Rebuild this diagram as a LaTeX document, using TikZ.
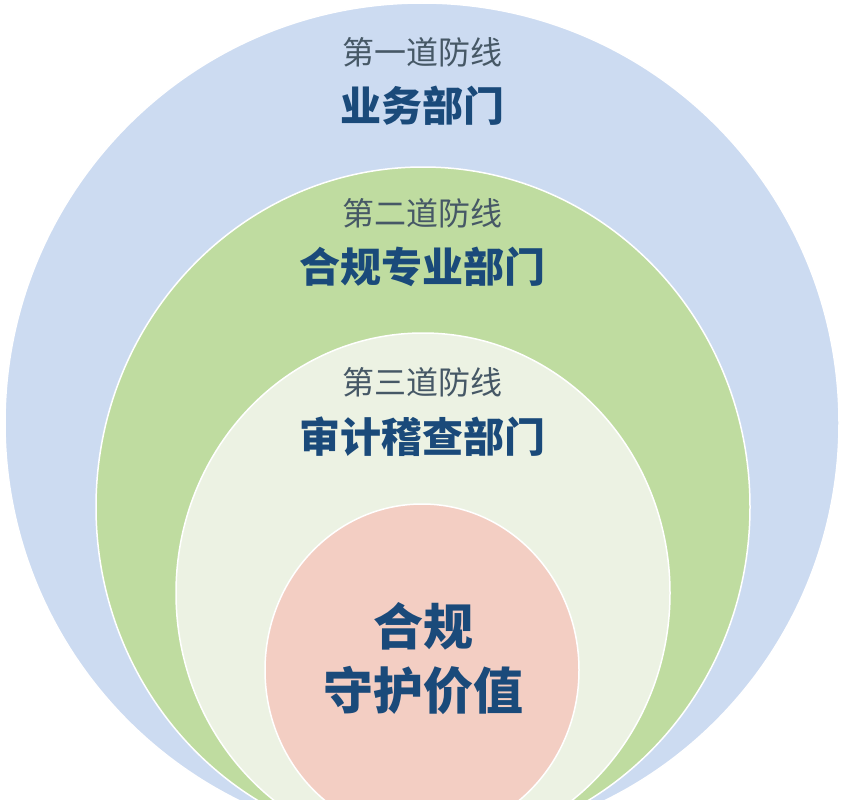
\documentclass[tikz,border=0pt]{standalone}
\usepackage{fontspec}
\newfontfamily\cjk{Noto Sans CJK SC}
\definecolor{ringA}{HTML}{CCDBF1}
\definecolor{ringB}{HTML}{BFDCA0}
\definecolor{ringC}{HTML}{ECF2E3}
\definecolor{ringD}{HTML}{F3CEC3}
\definecolor{titleblue}{HTML}{1A4A7A}
\definecolor{subgray}{HTML}{465866}
\tikzset{
  ring/.style={draw=white, line width=1.5pt},
  subtitle/.style={font=\cjk\fontsize{32}{36}\selectfont, text=subgray, inner sep=0pt},
  maintitle/.style={font=\cjk\bfseries\fontsize{41}{46}\selectfont, text=titleblue, inner sep=0pt},
  coretitle/.style={font=\cjk\bfseries\fontsize{50}{56}\selectfont, text=titleblue, inner sep=0pt}
}
\begin{document}
\begin{tikzpicture}[x=1pt,y=-1pt]
\useasboundingbox (0,0) rectangle (854,800);
\fill[white] (0,0) rectangle (854,800);
\begin{scope}
\clip (0,0) rectangle (854,800);
\fill[ringA, ring] (422,423) ellipse [x radius=417, y radius=420];
\fill[ringB, ring] (423,507) ellipse [x radius=327, y radius=340];
\fill[ringC, ring] (423,593) ellipse [x radius=247, y radius=260];
\fill[ringD, ring] (422,670) ellipse [x radius=157, y radius=166];
\end{scope}
\node[subtitle]  (l1) at (422,52)  {第一道防线};
\node[maintitle] (d1) at (422,106) {业务部门};
\node[subtitle]  (l2) at (422,213) {第二道防线};
\node[maintitle] (d2) at (422,267) {合规专业部门};
\node[subtitle]  (l3) at (422,382) {第三道防线};
\node[maintitle] (d3) at (422,437) {审计稽查部门};
\node[coretitle] (c1) at (423,626) {合规};
\node[coretitle] (c2) at (423,690) {守护价值};
\end{tikzpicture}
\end{document}
